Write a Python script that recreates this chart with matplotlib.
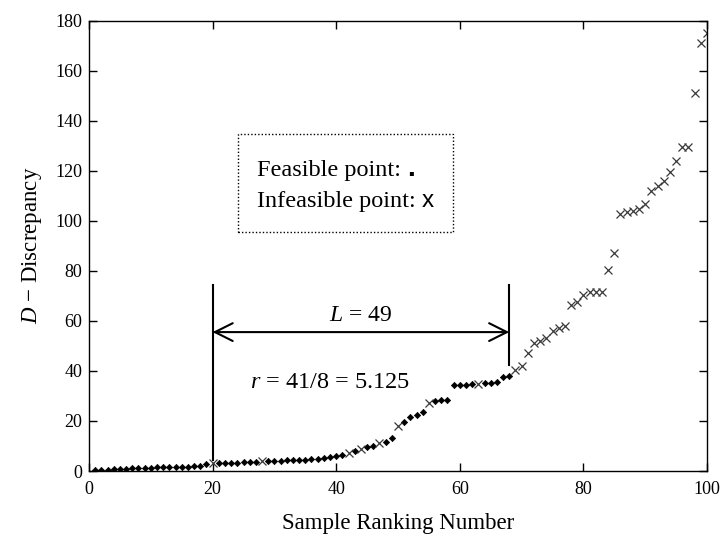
import matplotlib
matplotlib.use("Agg")
import matplotlib.pyplot as plt
from matplotlib.patches import Rectangle
from matplotlib.offsetbox import TextArea, HPacker, AnnotationBbox
import numpy as np

# ---- data ----
ranks = list(range(1, 101))
discrepancy = [
    0.3, 0.4, 0.5, 0.6, 0.8, 0.9, 1.0, 1.1, 1.2, 1.3,
    1.4, 1.5, 1.5, 1.6, 1.7, 1.7, 1.8, 1.9, 2.6, 3.0,
    3.1, 3.2, 3.2, 3.3, 3.4, 3.5, 3.6, 3.8, 3.9, 4.0,
    4.1, 4.2, 4.3, 4.4, 4.5, 4.7, 4.9, 5.1, 5.4, 5.8,
    6.4, 7.2, 7.9, 8.6, 9.6, 10.0, 11.2, 11.6, 13.2, 18.0,
    19.5, 21.5, 22.5, 23.5, 27.0, 28.0, 28.2, 28.5, 34.2, 34.4,
    34.5, 34.6, 34.8, 35.0, 35.2, 35.6, 37.5, 38.0, 40.5, 42.0,
    47.0, 51.0, 52.0, 53.0, 56.0, 57.0, 58.0, 66.5, 67.5, 70.5,
    71.5, 71.5, 71.5, 80.5, 87.0, 102.5, 103.5, 104.0, 104.5, 106.5,
    112.0, 114.0, 116.0, 119.5, 124.0, 129.5, 129.5, 151.0, 171.0, 175.0,
]
infeasible_ranks = [20, 28, 42, 44, 47, 50, 55, 63] + list(range(69, 101))

x_ticks = [0, 20, 40, 60, 80, 100]
y_ticks = [0, 20, 40, 60, 80, 100, 120, 140, 160, 180]

L_start, L_end = 20, 68

# ---- split ----
ranks_a = np.array(ranks)
disc_a = np.array(discrepancy)
inf_mask = np.isin(ranks_a, infeasible_ranks)

serif = ["Liberation Serif", "DejaVu Serif"]
plt.rcParams["font.family"] = serif
plt.rcParams["mathtext.fontset"] = "custom"
plt.rcParams["mathtext.rm"] = "Liberation Serif"
plt.rcParams["mathtext.it"] = "Liberation Serif:italic"

fig = plt.figure(figsize=(7.24, 5.36), dpi=100)
ax = fig.add_axes([89/724, 1 - 471/536, (707-89)/724, (471-20.5)/536])

ax.plot(ranks_a[~inf_mask], disc_a[~inf_mask], linestyle="none", marker="D",
        markersize=3.2, color="black", markeredgewidth=0.5)
ax.plot(ranks_a[inf_mask], disc_a[inf_mask], linestyle="none", marker="x",
        markersize=6, color="#3a3a3a", markeredgewidth=0.9)

ax.set_xlim(0, 100)
ax.set_ylim(0, 180)
ax.set_xticks(x_ticks)
ax.set_yticks(y_ticks)
ax.tick_params(direction="in", top=True, right=True, length=6, width=1,
               labelsize=13, colors="black")
ax.tick_params(axis="x", pad=7)
ax.tick_params(axis="y", pad=5)
for s in ax.spines.values():
    s.set_linewidth(1.0)

ax.set_xlabel("Sample Ranking Number", fontsize=16.5, labelpad=11)
ax.set_ylabel(r"$D$ $-$ Discrepancy", fontsize=16.5, labelpad=8)

# L markers
ax.plot([L_start, L_start], [4.5, 74.5], color="black", lw=1.5)
ax.plot([L_end, L_end], [42.5, 74.5], color="black", lw=1.5)
ax.annotate("", xy=(L_start, 55.5), xytext=(L_end, 55.5),
            arrowprops=dict(arrowstyle="<->", lw=1.5, color="black",
                            mutation_scale=32, shrinkA=0, shrinkB=0))
ax.text(44, 62, r"$L$ = 49", fontsize=17, ha="center", va="center")
ax.text(39.0, 35.5, r"$r$ = 41/8 = 5.125", fontsize=17.5, ha="center", va="center")

# legend box
ax.add_patch(Rectangle((24.1, 95.3), 34.8, 39.5, fill=False, linestyle=(0, (1, 1.5)),
                       lw=1.0, edgecolor="black"))
row1 = HPacker(children=[TextArea("Feasible point: ", textprops=dict(fontsize=17.5, family=serif)),
                         TextArea(".", textprops=dict(fontsize=20, family="Liberation Sans",
                                                      fontweight="bold"))],
               align="baseline", pad=0, sep=0)
row2 = HPacker(children=[TextArea("Infeasible point: ", textprops=dict(fontsize=17.5, family=serif)),
                         TextArea("x", textprops=dict(fontsize=17.5, family="Liberation Sans"))],
               align="baseline", pad=0, sep=0)
ax.add_artist(AnnotationBbox(row1, (27.2, 120.5), box_alignment=(0, 0.5), frameon=False))
ax.add_artist(AnnotationBbox(row2, (27.2, 108), box_alignment=(0, 0.5), frameon=False))

fig.savefig("out.png", dpi=100)
